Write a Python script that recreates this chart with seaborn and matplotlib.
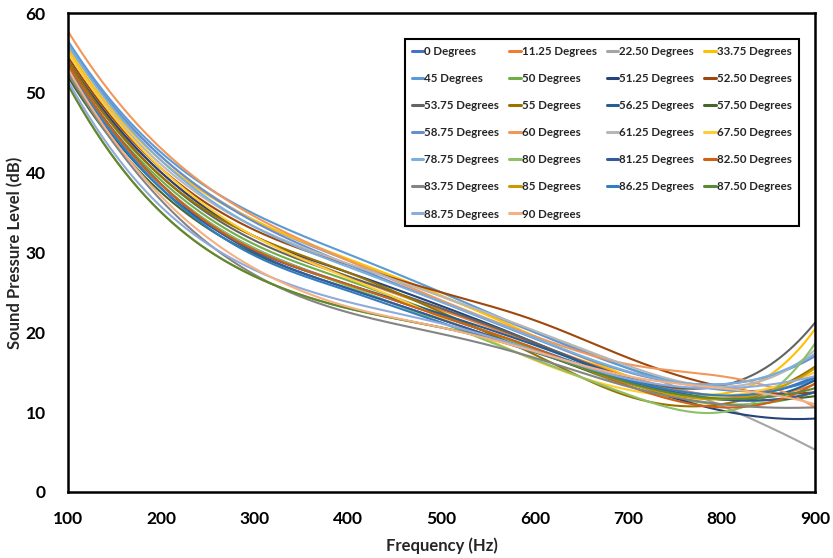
import numpy as np
import pandas as pd
import matplotlib
matplotlib.use("Agg")
import matplotlib.pyplot as plt
import seaborn as sns

# Measured sound pressure level (dB) at each frequency, one list per incidence angle
freqs = [100, 200, 300, 400, 500, 600, 700, 800, 900]

angles = ["0 Degrees", "11.25 Degrees", "22.50 Degrees", "33.75 Degrees",
          "45 Degrees", "50 Degrees", "51.25 Degrees", "52.50 Degrees",
          "53.75 Degrees", "55 Degrees", "56.25 Degrees", "57.50 Degrees",
          "58.75 Degrees", "60 Degrees", "61.25 Degrees", "67.50 Degrees",
          "78.75 Degrees", "80 Degrees", "81.25 Degrees", "82.50 Degrees",
          "83.75 Degrees", "85 Degrees", "86.25 Degrees", "87.50 Degrees",
          "88.75 Degrees", "90 Degrees"]

spl_0 = [53.0, 38.5, 30.5, 26.0, 22.0, 18.0, 14.0, 12.0, 14.5]
spl_11_25 = [54.0, 40.0, 32.0, 27.0, 22.8, 18.6, 14.5, 12.0, 13.5]
spl_22_50 = [56.0, 42.0, 34.0, 29.0, 24.5, 20.0, 15.5, 10.8, 5.3]
spl_33_75 = [55.5, 41.5, 34.0, 29.2, 24.6, 19.5, 14.5, 12.3, 20.4]
spl_45 = [56.5, 42.5, 34.8, 29.8, 25.0, 20.0, 15.5, 12.8, 14.0]
spl_50 = [53.0, 39.0, 31.0, 26.5, 22.2, 17.8, 13.3, 11.0, 12.5]
spl_51_25 = [54.0, 40.0, 32.0, 27.5, 23.3, 18.7, 13.8, 10.2, 9.2]
spl_52_50 = [54.5, 40.5, 32.8, 28.5, 25.0, 21.5, 16.8, 13.2, 12.5]
spl_53_75 = [54.0, 39.5, 31.5, 27.0, 23.0, 18.7, 14.3, 13.3, 21.2]
spl_55 = [54.0, 39.5, 32.0, 27.5, 22.5, 17.2, 12.0, 11.0, 15.7]
spl_56_25 = [52.5, 38.0, 30.2, 26.0, 22.3, 18.4, 14.2, 11.6, 14.0]
spl_57_50 = [52.0, 37.5, 29.8, 25.5, 21.6, 17.6, 13.6, 11.6, 12.0]
spl_58_75 = [56.0, 42.0, 33.8, 28.5, 23.8, 19.2, 15.0, 13.5, 17.0]
spl_60 = [57.7, 43.0, 34.5, 29.0, 24.0, 19.5, 16.0, 14.5, 10.6]
spl_61_25 = [55.0, 41.0, 33.2, 28.6, 24.5, 20.2, 15.8, 13.2, 17.8]
spl_67_50 = [55.0, 40.5, 32.0, 26.8, 21.8, 16.5, 12.8, 12.0, 15.0]
spl_78_75 = [56.0, 41.5, 33.2, 28.2, 23.8, 19.3, 15.1, 13.5, 17.3]
spl_80 = [53.0, 38.5, 30.5, 25.8, 21.2, 16.6, 12.2, 10.0, 18.6]
spl_81_25 = [53.5, 38.5, 30.0, 25.5, 21.6, 17.6, 13.9, 11.6, 12.5]
spl_82_50 = [53.5, 38.5, 30.3, 26.0, 22.0, 18.0, 13.3, 10.6, 13.6]
spl_83_75 = [52.5, 36.5, 27.2, 22.5, 19.8, 16.8, 13.2, 11.0, 10.6]
spl_85 = [51.0, 35.0, 27.0, 23.0, 20.6, 17.6, 13.6, 11.6, 15.5]
spl_86_25 = [53.0, 38.0, 29.6, 25.2, 21.2, 17.5, 14.0, 12.1, 14.3]
spl_87_50 = [51.0, 35.0, 27.0, 23.0, 20.6, 17.6, 13.7, 11.7, 13.0]
spl_88_75 = [51.5, 35.7, 27.8, 23.8, 21.1, 17.7, 14.2, 13.0, 14.5]
spl_90 = [53.0, 37.0, 28.0, 23.2, 20.6, 17.6, 14.5, 13.0, 11.0]

series = [spl_0, spl_11_25, spl_22_50, spl_33_75, spl_45, spl_50, spl_51_25,
          spl_52_50, spl_53_75, spl_55, spl_56_25, spl_57_50, spl_58_75, spl_60,
          spl_61_25, spl_67_50, spl_78_75, spl_80, spl_81_25, spl_82_50,
          spl_83_75, spl_85, spl_86_25, spl_87_50, spl_88_75, spl_90]

colors = ["#4472C4", "#ED7D31", "#A5A5A5", "#FFC000", "#5B9BD5", "#70AD47",
          "#264478", "#9E480E", "#636363", "#997300", "#255E91", "#43682B",
          "#698ED0", "#F1975A", "#B7B7B7", "#FFCD33", "#7CAFDD", "#8CC168",
          "#335AA1", "#D26012", "#848484", "#CC9A00", "#327DC2", "#5A8A39",
          "#8FAADC", "#F4B183"]


def smooth_curve(xs, ys, steps=40):
    """Cubic spline (not-a-knot ends) drawn through every measured point."""
    x = np.asarray(xs, float)
    y = np.asarray(ys, float)
    n = len(x)
    h = np.diff(x)
    A = np.zeros((n, n))
    b = np.zeros(n)
    # not-a-knot: third derivative continuous at the second and second-to-last knots
    A[0, 0], A[0, 1], A[0, 2] = h[1], -(h[0] + h[1]), h[0]
    A[-1, -3], A[-1, -2], A[-1, -1] = h[-1], -(h[-2] + h[-1]), h[-2]
    for i in range(1, n - 1):
        A[i, i - 1] = h[i - 1]
        A[i, i] = 2 * (h[i - 1] + h[i])
        A[i, i + 1] = h[i]
        b[i] = 6 * ((y[i + 1] - y[i]) / h[i] - (y[i] - y[i - 1]) / h[i - 1])
    m = np.linalg.solve(A, b)
    xx, yy = [x[0]], [y[0]]
    for i in range(n - 1):
        t = np.linspace(x[i], x[i + 1], steps + 1)[1:]
        a = x[i + 1] - t
        c = t - x[i]
        s = (m[i] * a ** 3 + m[i + 1] * c ** 3) / (6 * h[i]) \
            + (y[i] / h[i] - m[i] * h[i] / 6) * a \
            + (y[i + 1] / h[i] - m[i + 1] * h[i] / 6) * c
        xx.extend(t)
        yy.extend(s)
    return np.array(xx), np.array(yy)


frames = []
for name, vals in zip(angles, series):
    cx, cy = smooth_curve(freqs, vals)
    frames.append(pd.DataFrame({"Frequency": cx, "SPL": cy, "Angle": name}))
df = pd.concat(frames, ignore_index=True)

sns.set_style("white")
plt.rcParams["font.family"] = ["Lato", "DejaVu Sans"]
plt.rcParams["font.weight"] = "bold"

fig = plt.figure(figsize=(8.33, 5.58), dpi=100)
ax = fig.add_axes([68 / 833, 1 - 492 / 558, (815 - 68) / 833, (492 - 13) / 558])

sns.lineplot(data=df, x="Frequency", y="SPL", hue="Angle", hue_order=angles,
             palette=colors, linewidth=1.5, estimator=None, sort=False, ax=ax)

ax.set_xlim(100, 900)
ax.set_ylim(0, 60)
ax.set_xticks(range(100, 901, 100))
ax.set_yticks(range(0, 61, 10))
ax.set_xlabel("Frequency (Hz)", fontsize=12, fontweight="bold", labelpad=7)
ax.set_ylabel("Sound Pressure Level (dB)", fontsize=12, fontweight="bold", labelpad=2)
ax.tick_params(axis="both", direction="in", length=5, width=1.3, labelsize=12.5, colors="black")
ax.tick_params(axis="x", pad=14)
ax.tick_params(axis="y", pad=16)
for lab in ax.get_xticklabels() + ax.get_yticklabels():
    lab.set_fontweight("bold")
for sp in ax.spines.values():
    sp.set_visible(True)
    sp.set_color("black")
    sp.set_linewidth(1.8)
ax.grid(False)

# legend entries read across rows (4 per row)
handles, labels = ax.get_legend_handles_labels()
ax.legend_.remove()
ncol = 4
nrow = int(np.ceil(len(labels) / ncol))
order = [r * ncol + c for c in range(ncol) for r in range(nrow) if r * ncol + c < len(labels)]
leg = fig.legend([handles[i] for i in order], [labels[i] for i in order],
                 ncol=ncol, loc="upper left",
                 bbox_to_anchor=(399 / 833, 1 - 33 / 558),
                 prop={"family": ["Lato", "DejaVu Sans"], "weight": "bold", "size": 8.3},
                 frameon=True, fancybox=False, framealpha=1, edgecolor="black",
                 handlelength=1.0, handletextpad=0.1, columnspacing=0.85,
                 labelspacing=1.4, borderpad=0.6)
leg.get_frame().set_linewidth(1.5)
for h in leg.legend_handles:
    h.set_linewidth(2.2)

fig.savefig("out.png", dpi=100)
